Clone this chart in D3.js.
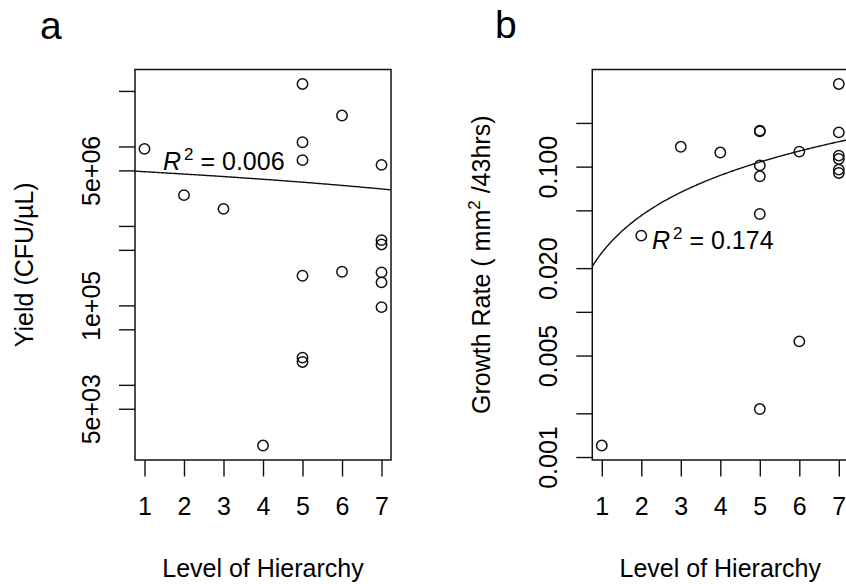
<!DOCTYPE html>
<html>
<head>
<meta charset="utf-8">
<script src="https://cdn.jsdelivr.net/npm/d3@7"></script>
<style>
  html, body { margin: 0; padding: 0; background: #fff; }
  svg { display: block; }
  text { font-family: "Liberation Sans", Arial, Helvetica, sans-serif; fill: #000; }
</style>
</head>
<body>
<svg id="chart" width="846" height="584"></svg>
<script>
// ---------- data ----------
const levelTicks = [1, 2, 3, 4, 5, 6, 7];

const levelsA = [1, 2, 3, 4, 5, 5, 5, 5, 5, 5, 6, 6, 7, 7, 7, 7, 7, 7];
const yieldA  = [9.33e6, 2.44e6, 1.64e6, 1722, 6.12e7, 1.13e7, 6.73e6, 2.36e5, 2.20e4, 1.94e4,
                 2.45e7, 2.65e5, 5.87e6, 6.63e5, 5.85e5, 2.6e5, 1.95e5, 9.5e4];

const levelsB = [1, 2, 3, 4, 5, 5, 5, 5, 5, 5, 6, 6, 7, 7, 7, 7, 7, 7];
const growthB = [0.0012, 0.0335, 0.137, 0.125, 0.177, 0.175, 0.102, 0.0858, 0.0472, 0.00214,
                 0.1269, 0.00626, 0.371, 0.1722, 0.1191, 0.1130, 0.0954, 0.0905];

const yTicksA = [5e7, 1e7, 5e6, 1e6, 5e5, 1e5, 5e4, 1e4, 5e3];
const yLabelsA = { 5e6: "5e+06", 1e5: "1e+05", 5e3: "5e+03" };
const yTicksB = [0.2, 0.1, 0.05, 0.02, 0.01, 0.005, 0.002, 0.001];
const yLabelsB = { 0.1: "0.100", 0.02: "0.020", 0.005: "0.005", 0.001: "0.001" };

const fitIntercepts = [5.127e6, 0.005];
const fitSlopes     = [-3.153e5, 0.0205];
const r2Values      = ["0.006", "0.174"];
const panelLetters  = ["a", "b"];

// ---------- layout ----------
const svg = d3.select("#chart");
svg.append("rect").attr("width", 846).attr("height", 584).attr("fill", "#fff");
const ink = "#111";
const FS = 25;

function logPadDomain(vals) {
  const lo = Math.log10(d3.min(vals)), hi = Math.log10(d3.max(vals));
  const p = 0.04 * (hi - lo);
  return [Math.pow(10, lo - p), Math.pow(10, hi + p)];
}
function linPadDomain(vals) {
  const lo = d3.min(vals), hi = d3.max(vals);
  const p = 0.04 * (hi - lo);
  return [lo - p, hi + p];
}

function panel(cfg) {
  const { left, right, top, bottom, xs, ys, yTicks, yLabels, yTitle, fitI, fitS, r2, r2x, r2y, letter, lx, ly } = cfg;
  const x = d3.scaleLinear().domain(linPadDomain(xs)).range([left, right]);
  const y = d3.scaleLog().domain(logPadDomain(ys)).range([bottom, top]);
  const g = svg.append("g");

  const clipId = "clip" + letter;
  svg.append("clipPath").attr("id", clipId)
    .append("rect").attr("x", left).attr("y", top).attr("width", right - left).attr("height", bottom - top);

  // x axis
  const xa = g.append("g").attr("transform", `translate(0,${bottom})`)
    .call(d3.axisBottom(x).tickValues(levelTicks).tickSizeInner(16.5).tickSizeOuter(0).tickPadding(21).tickFormat(d3.format("d")));
  xa.select(".domain").remove();
  xa.selectAll(".tick line").attr("stroke", ink).attr("stroke-width", 1.4);
  xa.selectAll(".tick text").attr("font-size", FS).attr("dy", "0.71em").style("fill", "#000");

  // y axis
  const ya = g.append("g").attr("transform", `translate(${left},0)`)
    .call(d3.axisLeft(y).tickValues(yTicks).tickSizeInner(16).tickSizeOuter(0).tickFormat(d => yLabels[d] || ""));
  ya.select(".domain").remove();
  ya.selectAll(".tick line").attr("stroke", ink).attr("stroke-width", 1.4);
  ya.selectAll(".tick text")
    .attr("font-size", FS)
    .attr("text-anchor", "middle")
    .attr("transform", "rotate(-90)")
    .attr("x", 0).attr("y", -35).attr("dy", 0)
    .style("fill", "#000");

  // box
  g.append("rect").attr("x", left).attr("y", top).attr("width", right - left).attr("height", bottom - top)
    .attr("fill", "none").attr("stroke", ink).attr("stroke-width", 1.5);

  // fit line
  const [d0, d1] = x.domain();
  const samples = d3.range(0, 201).map(i => d0 + (d1 - d0) * i / 200);
  g.append("path")
    .attr("clip-path", `url(#${clipId})`)
    .attr("d", d3.line().x(d => x(d)).y(d => y(fitI + fitS * d))(samples))
    .attr("fill", "none").attr("stroke", ink).attr("stroke-width", 1.4);

  // points
  g.append("g").attr("clip-path", `url(#${clipId})`).selectAll("circle").data(xs.map((v, i) => [v, ys[i]]))
    .join("circle")
    .attr("cx", d => x(d[0])).attr("cy", d => y(d[1])).attr("r", 5.2)
    .attr("fill", "none").attr("stroke", ink).attr("stroke-width", 1.5);

  // R^2 label
  const t = g.append("text").attr("x", r2x).attr("y", r2y).attr("font-size", FS);
  t.append("tspan").attr("font-style", "italic").text("R");
  t.append("tspan").attr("font-size", 17).attr("dy", -10).attr("dx", 3).text("2");
  t.append("tspan").attr("dy", 10).text("\u00a0=\u00a0" + r2);

  // axis titles
  g.append("text").attr("x", (left + right) / 2).attr("y", 577).attr("text-anchor", "middle")
    .attr("font-size", FS).text("Level of Hierarchy");
  const yt = g.append("text")
    .attr("transform", `translate(${left - 102},${(top + bottom) / 2}) rotate(-90)`)
    .attr("text-anchor", "middle").attr("font-size", FS);
  yTitle(yt);

  // panel letter
  svg.append("text").attr("x", lx).attr("y", ly).attr("font-size", 39).text(letter);
}

panel({
  left: 135, right: 391, top: 69.5, bottom: 460,
  xs: levelsA, ys: yieldA, yTicks: yTicksA, yLabels: yLabelsA,
  yTitle: t => t.text("Yield (CFU/\u00b5L)"),
  fitI: fitIntercepts[0], fitS: fitSlopes[0], r2: r2Values[0], r2x: 163, r2y: 169.5,
  letter: panelLetters[0], lx: 40, ly: 39
});

panel({
  left: 592.3, right: 848.3, top: 69.5, bottom: 460,
  xs: levelsB, ys: growthB, yTicks: yTicksB, yLabels: yLabelsB,
  yTitle: t => {
    t.append("tspan").text("Growth Rate ( mm");
    t.append("tspan").attr("font-size", 17).attr("dy", -10).text("2");
    t.append("tspan").attr("dy", 10).text(" /43hrs)");
  },
  fitI: fitIntercepts[1], fitS: fitSlopes[1], r2: r2Values[1], r2x: 652, r2y: 249,
  letter: panelLetters[1], lx: 495, ly: 38
});
</script>
</body>
</html>
